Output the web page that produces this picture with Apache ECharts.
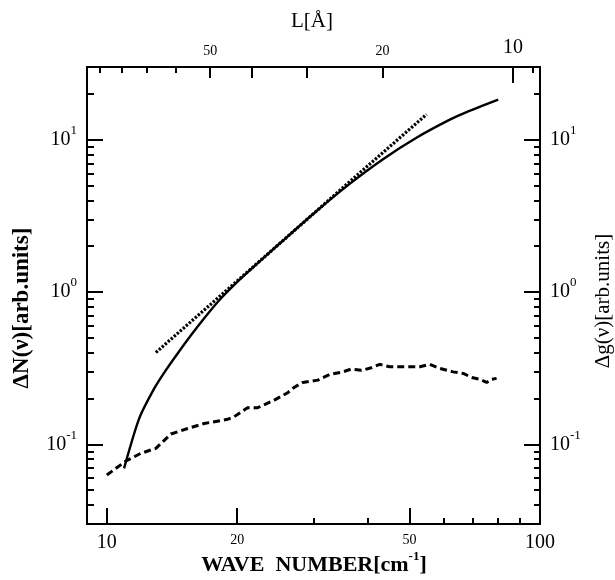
<!DOCTYPE html>
<html><head><meta charset="utf-8">
<script src="https://cdn.jsdelivr.net/npm/echarts@6/dist/echarts.min.js"></script>
<style>html,body{margin:0;padding:0;background:#fff}#c{width:615px;height:580px}</style>
</head><body><div id="c"></div>
<script>
// ---- data ----
const solidWave = [10.96, 11.88, 12.87, 13.69, 14.57, 15.64, 16.80, 18.03, 19.6, 21.34, 25.48, 30.45, 36.36, 43.41, 51.86, 61.92, 67.68, 80.09];
const solidVal  = [0.0696, 0.148, 0.233, 0.307, 0.395, 0.52, 0.675, 0.86, 1.10, 1.38, 2.17, 3.39, 5.13, 7.45, 10.3, 13.53, 15.17, 18.30];
const dotWave = [12.98, 21.34, 36.36, 54.7];
const dotVal  = [0.401, 1.39, 5.3, 14.65];
const dashWave = [10.0, 11.07, 11.98, 12.98, 14.06, 15.36, 16.78, 19.0, 19.69, 21.13, 22.3, 24.35, 26.15, 27.1, 28.35, 30.7, 32.7, 35.08, 36.67, 38.7, 40.8, 42.65, 44.98, 48.3, 52.8, 55.7, 58.7, 63.0, 66.5, 69.5, 72.6, 75.3, 77.3, 79.4];
const dashVal  = [0.0629, 0.0777, 0.0873, 0.0942, 0.117, 0.127, 0.137, 0.146, 0.152, 0.174, 0.174, 0.195, 0.218, 0.237, 0.255, 0.264, 0.288, 0.299, 0.312, 0.306, 0.318, 0.335, 0.323, 0.323, 0.323, 0.335, 0.315, 0.299, 0.292, 0.275, 0.267, 0.255, 0.267, 0.271];

const xMajorTicks = [10, 20, 50, 100];
const xMinorTicks = [30, 40, 60, 70, 80, 90];
const yMajorTicks = [0.1, 1, 10];
const yMinorTicks = [0.04, 0.05, 0.06, 0.07, 0.08, 0.09, 0.2, 0.3, 0.4, 0.5, 0.6, 0.7, 0.8, 0.9, 2, 3, 4, 5, 6, 7, 8, 9, 20];
const topLongL  = [10];
const topMidL   = [50, 40, 30, 20];
const topShortL = [90, 80, 70, 60, 9];
const topLabelL = [50, 20, 10];
const L_CONST = 866;           // L[Å] = L_CONST / wave number
const X_MIN = 9, X_MAX = 100, Y_MIN = 0.03, Y_MAX = 30;

// ---- chart ----
const FONT = 'Liberation Serif';
const lg = v => Math.log10(v);
const zip = (a, b) => a.map((v, i) => [v, b[i]]);
const rich = {
  big:   {fontSize: 20, fontFamily: FONT, color: '#000'},
  small: {fontSize: 14, fontFamily: FONT, color: '#000'},
  sup:   {fontSize: 13, fontFamily: FONT, color: '#000', padding: [0, 0, 18, 0]}
};
const noLine = {show: false, onZero: false};
function tickAxisX(pos, tickVals, len, labelVals, fmt) {
  return {
    type: 'value', position: pos, min: lg(X_MIN), max: lg(X_MAX),
    axisLine: noLine, splitLine: {show: false},
    axisTick: {show: true, inside: true, length: len, customValues: tickVals.map(lg), lineStyle: {color: '#000', width: 2}},
    axisLabel: labelVals ? {show: true, customValues: labelVals.map(lg), formatter: fmt, margin: 9, color: '#000', fontFamily: FONT, rich: rich} : {show: false}
  };
}
function tickAxisY(pos, tickVals, len, labels) {
  return {
    type: 'value', position: pos, min: lg(Y_MIN), max: lg(Y_MAX),
    axisLine: noLine, splitLine: {show: false},
    axisTick: {show: true, inside: true, length: len, customValues: tickVals.map(lg), lineStyle: {color: '#000', width: 2}},
    axisLabel: labels ? {show: true, customValues: tickVals.map(lg), margin: 10, color: '#000', fontFamily: FONT, rich: rich,
      formatter: v => '{big|10}{sup|' + Math.round(v) + '}'} : {show: false}
  };
}
const bottomFmt = v => { const n = Math.round(Math.pow(10, v)); return (n === 10 || n === 100) ? '{big|' + n + '}' : '{small|' + n + '}'; };
const topFmt = v => { const n = Math.round(L_CONST / Math.pow(10, v)); return n === 10 ? '{big|' + n + '}' : '{small|' + n + '}'; };
const frame = {show: true, onZero: false, lineStyle: {color: '#000', width: 2}};

const xAxes = [
  {type: 'log', min: X_MIN, max: X_MAX, position: 'bottom', axisLine: frame, axisTick: {show: false}, axisLabel: {show: false}, splitLine: {show: false}},
  tickAxisX('bottom', xMajorTicks, 16, xMajorTicks, bottomFmt),
  tickAxisX('bottom', xMinorTicks, 6),
  Object.assign(tickAxisX('top', topLongL.map(L => L_CONST / L), 16, topLabelL.map(L => L_CONST / L), topFmt), {axisLine: frame}),
  tickAxisX('top', topMidL.map(L => L_CONST / L), 11),
  tickAxisX('top', topShortL.map(L => L_CONST / L), 6)
];
const yAxes = [
  {type: 'log', min: Y_MIN, max: Y_MAX, position: 'left', axisLine: frame, axisTick: {show: false}, axisLabel: {show: false}, splitLine: {show: false}},
  tickAxisY('left', yMajorTicks, 16, true),
  tickAxisY('left', yMinorTicks, 7),
  Object.assign(tickAxisY('right', yMajorTicks, 16, true), {axisLine: frame}),
  tickAxisY('right', yMinorTicks, 6)
];

const chart = echarts.init(document.getElementById('c'), null, {renderer: 'canvas'});
chart.setOption({
  animation: false,
  backgroundColor: '#fff',
  grid: {left: 87, top: 67, width: 453, height: 457, outerBoundsMode: 'none', containLabel: false},
  xAxis: xAxes,
  yAxis: yAxes,
  series: [
    {type: 'line', xAxisIndex: 0, yAxisIndex: 0, data: zip(dashWave, dashVal), symbol: 'none', z: 3,
     lineStyle: {color: '#000', width: 3, type: [7, 4]}},
    {type: 'line', xAxisIndex: 0, yAxisIndex: 0, data: zip(solidWave, solidVal), symbol: 'none', smooth: 0.25, z: 4,
     lineStyle: {color: '#000', width: 2.4}},
    {type: 'line', xAxisIndex: 0, yAxisIndex: 0, data: zip(dotWave, dotVal), symbol: 'none', z: 5,
     lineStyle: {color: '#000', width: 3.2, type: [2.4, 1.6]}}
  ],
  graphic: [
    {type: 'text', x: 314, y: 565, style: {text: '{t|WAVE  NUMBER[cm}{ts|-1}{t|]}', align: 'center', verticalAlign: 'middle',
      rich: {t: {fontSize: 22, fontWeight: 'bold', fontFamily: FONT, fill: '#000'}, ts: {fontSize: 13, fontWeight: 'bold', fontFamily: FONT, fill: '#000', padding: [0, 0, 16, 0]}}}},
    {type: 'text', x: 22, y: 308, rotation: Math.PI / 2, style: {text: 'ΔN(ν)[arb.units]', align: 'center', verticalAlign: 'middle',
      font: 'bold 23px "Liberation Serif"', fill: '#000'}},
    {type: 'text', x: 603, y: 301, rotation: Math.PI / 2, style: {text: 'Δg(ν)[arb.units]', align: 'center', verticalAlign: 'middle',
      font: '21px "Liberation Serif"', fill: '#000'}},
    {type: 'text', x: 312, y: 21, style: {text: 'L[Å]', align: 'center', verticalAlign: 'middle',
      font: '21px "Liberation Serif"', fill: '#000'}}
  ]
});
</script>
</body></html>
